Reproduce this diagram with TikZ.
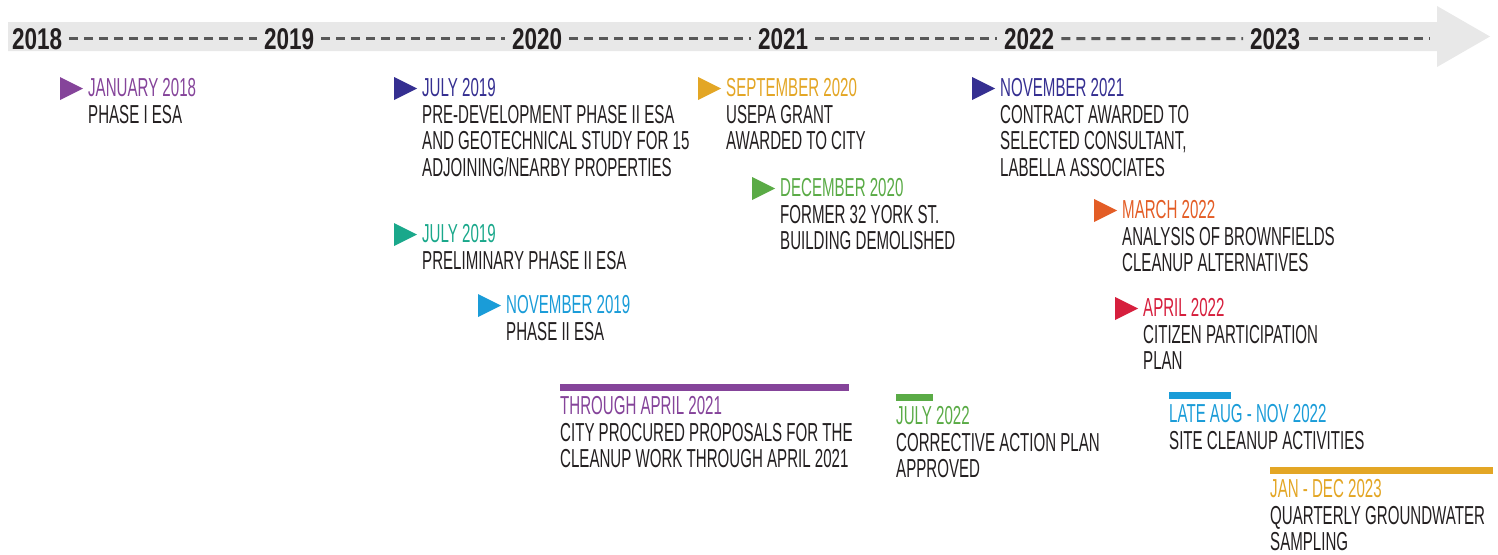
\documentclass[tikz,border=0pt]{standalone}
\usepackage{fontspec}
\setmainfont{Liberation Sans}[FakeStretch=0.58]
\newfontfamily\yearfont{Liberation Sans}[FakeStretch=0.75]
\definecolor{cPurple}{HTML}{85449A}
\definecolor{cNavy}{HTML}{352F91}
\definecolor{cGold}{HTML}{E3A625}
\definecolor{cTeal}{HTML}{1AA88B}
\definecolor{cGreen}{HTML}{5AAB46}
\definecolor{cSky}{HTML}{1A9CD8}
\definecolor{cOrange}{HTML}{E35D26}
\definecolor{cRed}{HTML}{D61F3D}
\definecolor{cInk}{HTML}{231F20}
\definecolor{cBand}{HTML}{E8E8E8}
\definecolor{cDash}{HTML}{585858}
\tikzset{
	yeardash/.style={draw=cDash, line width=3pt, dash pattern=on 9pt off 6pt},
	year/.style={font=\yearfont\bfseries\fontsize{30}{30}\selectfont, text=cInk, inner sep=0pt, anchor=base west},
	event/.style={font=\fontsize{26}{26.5}\selectfont, text=cInk, inner sep=0pt, anchor=north west, align=left},
}
\begin{document}
\begin{tikzpicture}[x=1pt, y=-1pt]
				\useasboundingbox (0,0) rectangle (1498,554);
				\fill[cBand] (8,22)--(1437,22)--(1437,6)--(1490,36.5)--(1437,67)--(1437,51)--(8,51)--cycle;
				\foreach \n/\x in {2018/12, 2019/264, 2020/512, 2021/758, 2022/1004, 2023/1250}{
				\node[year] (y\n) at (\x,49) {\n};
				}
				\foreach \a/\b in {2018/2019, 2019/2020, 2020/2021, 2021/2022, 2022/2023}{
				\draw[yeardash] ([xshift=7pt]y\a.east)--([xshift=-7pt]y\b.west);
				}
				\coordinate (tail) at (1430,37);
				\draw[yeardash] ([xshift=9pt]y2023.east)--(tail |- y2023.east);
				% milestones with a flag
				\foreach \n/\x/\y/\c/\d/\t in {jan18/88/97/cPurple/{JANUARY 2018}/{PHASE I ESA},
				jul19a/422/97/cNavy/{JULY 2019}/{PRE-DEVELOPMENT PHASE II ESA\\AND GEOTECHNICAL STUDY FOR 15\\ADJOINING/NEARBY PROPERTIES},
				sep20/726/97/cGold/{SEPTEMBER 2020}/{USEPA GRANT\\AWARDED TO CITY},
				nov21/1000/97/cNavy/{NOVEMBER 2021}/{CONTRACT AWARDED TO\\SELECTED CONSULTANT,\\LABELLA ASSOCIATES},
				jul19b/422/243/cTeal/{JULY 2019}/{PRELIMINARY PHASE II ESA},
				dec20/780/197/cGreen/{DECEMBER 2020}/{FORMER 32 YORK ST.\\BUILDING DEMOLISHED},
				nov19/506/314/cSky/{NOVEMBER 2019}/{PHASE II ESA},
				mar22/1122/219/cOrange/{MARCH 2022}/{ANALYSIS OF BROWNFIELDS\\CLEANUP ALTERNATIVES},
				apr22/1143/317/cRed/{APRIL 2022}/{CITIZEN PARTICIPATION\\PLAN}}{
				\node[event] (\n) at (\x,\y-18.6) {\textcolor{\c}{\d}\\\t};
				\fill[\c] ([shift={(-28,-1.4)}]\n.north west)--([shift={(-5,10.1)}]\n.north west)--([shift={(-28,21.6)}]\n.north west)--cycle;
				}
				% periods with a bar
				\foreach \n/\x/\y/\w/\c/\d/\t in {thru21/560/415/289/cPurple/{THROUGH APRIL 2021}/{CITY PROCURED PROPOSALS FOR THE\\CLEANUP WORK THROUGH APRIL 2021},
				jul22/896/425/37/cGreen/{JULY 2022}/{CORRECTIVE ACTION PLAN\\APPROVED},
				aug22/1169/423/62/cSky/{LATE AUG - NOV 2022}/{SITE CLEANUP ACTIVITIES},
				jan23/1270/498/223/cGold/{JAN - DEC 2023}/{QUARTERLY GROUNDWATER\\SAMPLING}}{
				\node[event] (\n) at (\x,\y-18.6) {\textcolor{\c}{\d}\\\t};
				\fill[\c] ([shift={(0,-12.4)}]\n.north west) rectangle ++(\w,7);
				}
			\end{tikzpicture}
\end{document}
